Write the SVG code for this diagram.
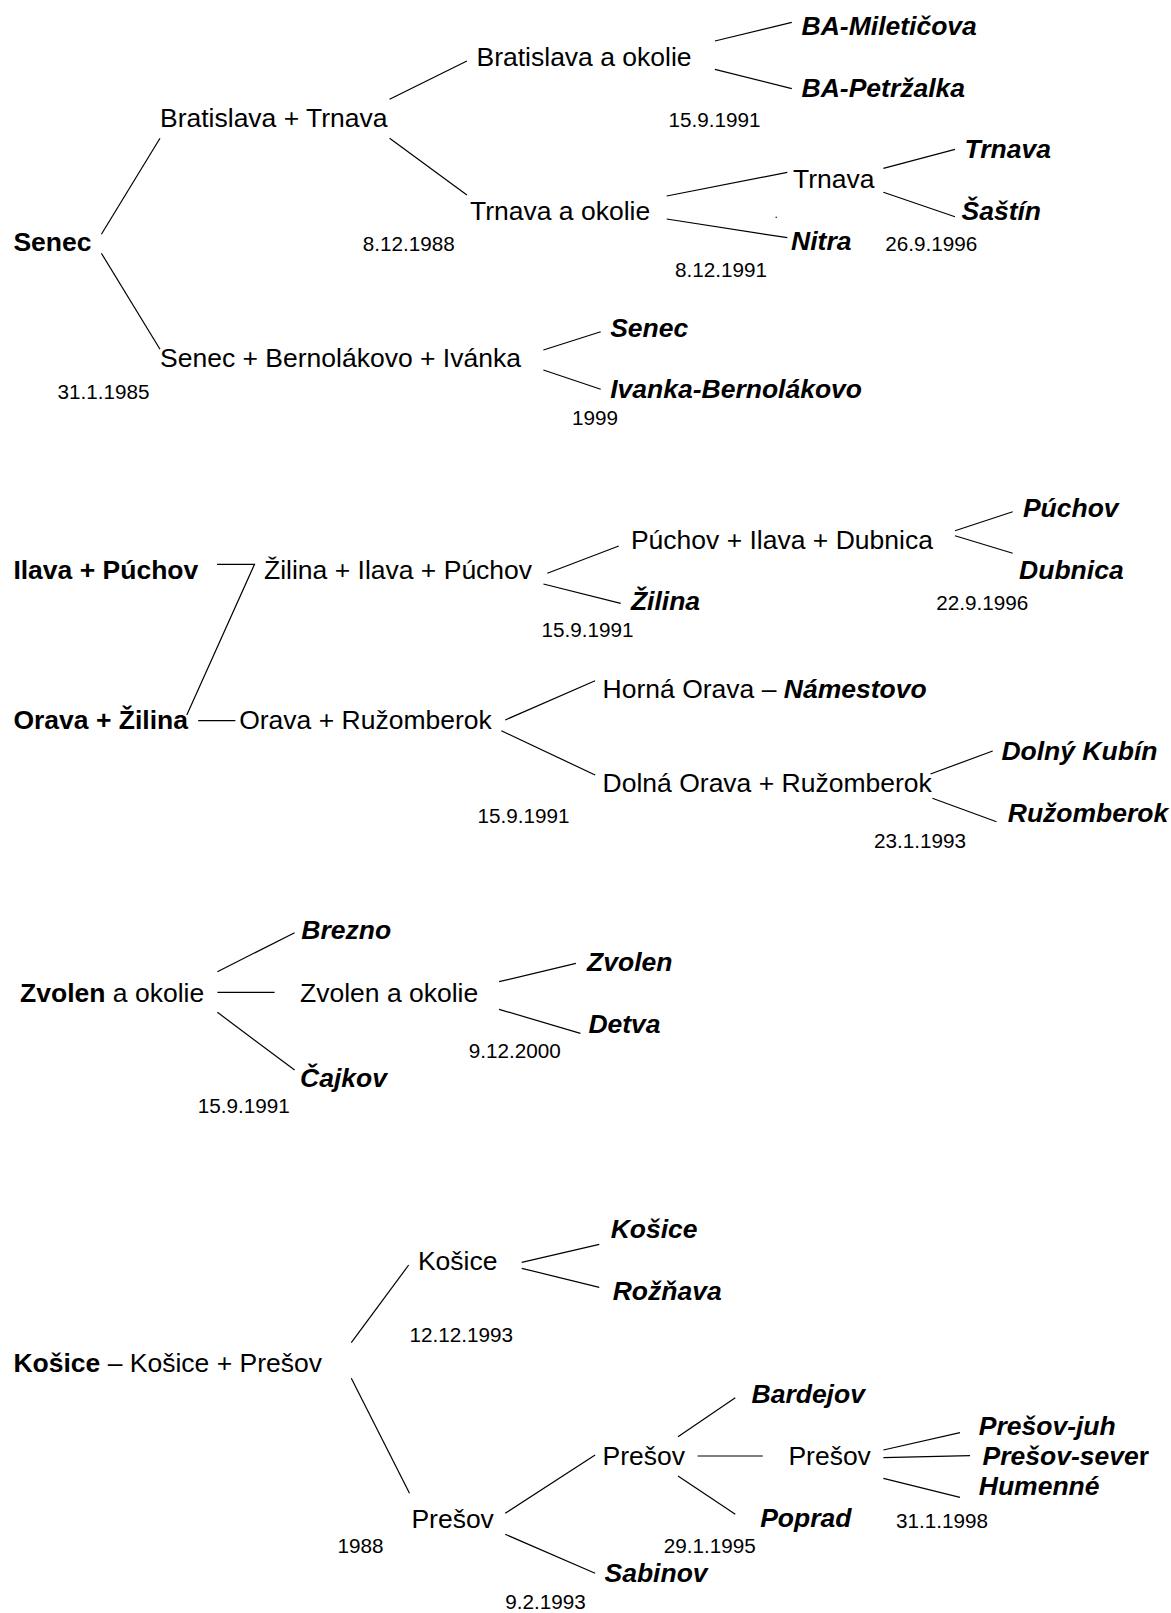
<svg xmlns="http://www.w3.org/2000/svg" width="1171" height="1613" viewBox="0 0 1171 1613">
<style>
text{font-family:"Liberation Sans",Arial,Helvetica,sans-serif;fill:#000}
.l{font-size:26.5px}
.b{font-size:26.5px;font-weight:bold}
.bi{font-size:26.5px;font-weight:bold;font-style:italic}
.d{font-size:20.7px}
.sb{font-weight:bold}
.si{font-weight:bold;font-style:italic}
.up{font-style:normal}
#connectors line,#connectors polyline{stroke:#000;stroke-width:1.2;fill:none}
</style>
<rect width="1171" height="1613" fill="#fff"/>
<g id="connectors">
<!-- Senec tree -->
<line x1="101.4" y1="234.3" x2="160" y2="138.3"/>
<line x1="101.4" y1="253.3" x2="160" y2="349.3"/>
<line x1="389.6" y1="99.3" x2="466.9" y2="61"/>
<line x1="389.6" y1="138.3" x2="466.9" y2="195"/>
<line x1="714.9" y1="41" x2="791.8" y2="22.3"/>
<line x1="714.9" y1="69.3" x2="791.8" y2="88.7"/>
<line x1="666.7" y1="196" x2="787.3" y2="172.3"/>
<line x1="666.7" y1="219" x2="787.3" y2="237.7"/>
<line x1="883.4" y1="168.3" x2="955" y2="149.3"/>
<line x1="883.4" y1="192.3" x2="955" y2="216.7"/>
<line x1="543.4" y1="350" x2="600.7" y2="331.7"/>
<line x1="543.4" y1="370" x2="600.7" y2="389.3"/>
<!-- Ilava/Orava tree -->
<polyline points="217,564.3 254.5,564.3 186.8,715"/>
<line x1="198.2" y1="720.7" x2="235.4" y2="720.7"/>
<line x1="547.3" y1="573.3" x2="618.8" y2="546"/>
<line x1="543.4" y1="584" x2="620.7" y2="603.3"/>
<line x1="955" y1="530.7" x2="1012.7" y2="511.7"/>
<line x1="955" y1="535.7" x2="1012.7" y2="553.3"/>
<line x1="505.2" y1="720" x2="595.1" y2="680.7"/>
<line x1="501.3" y1="730.7" x2="595.1" y2="775"/>
<line x1="930.5" y1="774" x2="992.7" y2="751"/>
<line x1="932.4" y1="798.3" x2="996.5" y2="821.7"/>
<!-- Zvolen tree -->
<line x1="217.4" y1="971.7" x2="294.6" y2="932.7"/>
<line x1="217.4" y1="992.3" x2="274.6" y2="992.3"/>
<line x1="217.4" y1="1012.3" x2="294.6" y2="1070"/>
<line x1="499.1" y1="981.7" x2="575.9" y2="963.3"/>
<line x1="499.1" y1="1009.3" x2="580.4" y2="1033.3"/>
<!-- Kosice tree -->
<line x1="351.3" y1="1342.7" x2="408.7" y2="1265"/>
<line x1="351.3" y1="1378.3" x2="409.5" y2="1493.3"/>
<line x1="521.7" y1="1262.3" x2="599.3" y2="1244.3"/>
<line x1="521.7" y1="1268.3" x2="599.3" y2="1287.3"/>
<line x1="505.2" y1="1513.3" x2="595.1" y2="1455"/>
<line x1="505.2" y1="1534.3" x2="595.1" y2="1573.3"/>
<line x1="678" y1="1436.7" x2="735.3" y2="1397.7"/>
<line x1="697.6" y1="1456" x2="762.8" y2="1456"/>
<line x1="678" y1="1476" x2="735.3" y2="1514.3"/>
<line x1="883.4" y1="1450" x2="960" y2="1432.7"/>
<line x1="883.4" y1="1457.7" x2="970.1" y2="1455.7"/>
<line x1="883.4" y1="1478.3" x2="960" y2="1497.3"/>
</g>
<g id="nodes">
<g id="n-senec-root"><text class="b" x="13.4" y="250.7">Senec</text></g>
<g id="n-ba-tt"><text class="l" x="160" y="126.7">Bratislava + Trnava</text><text class="d" x="362.8" y="250.7">8.12.1988</text></g>
<g id="n-ba-okolie"><text class="l" x="476.5" y="65.7">Bratislava a okolie</text><text class="d" x="668.6" y="126.7">15.9.1991</text></g>
<g id="n-ba-mil"><text class="bi" x="801.6" y="35">BA-Miletičova</text></g>
<g id="n-ba-pet"><text class="bi" x="801.6" y="96.7">BA-Petržalka</text></g>
<g id="n-tt-okolie"><text class="l" x="470" y="220">Trnava a okolie</text><text class="d" x="675" y="276.7">8.12.1991</text></g>
<g id="n-trnava"><text class="l" x="793" y="188.3">Trnava</text><text class="d" x="885.3" y="250.7">26.9.1996</text></g>
<g id="n-dot"><text class="d" x="774.5" y="218" style="font-size:12px">.</text></g>
<g id="n-trnava-c"><text class="bi" x="964.5" y="158.3">Trnava</text></g>
<g id="n-sastin"><text class="bi" x="961.5" y="220">Šaštín</text></g>
<g id="n-nitra"><text class="bi" x="791.1" y="250">Nitra</text></g>
<g id="n-sbi"><text class="l" x="160" y="367.3">Senec + Bernolákovo + Ivánka</text><text class="d" x="57.4" y="399">31.1.1985</text><text class="d" x="572.1" y="425">1999</text></g>
<g id="n-senec-c"><text class="bi" x="610.2" y="337.3">Senec</text></g>
<g id="n-ivanka"><text class="bi" x="610.2" y="398.3">Ivanka-Bernolákovo</text></g>

<g id="n-ilava-puchov"><text class="b" x="13.4" y="579.3">Ilava + Púchov</text></g>
<g id="n-orava-zilina"><text class="b" x="13.4" y="729.3">Orava + Žilina</text></g>
<g id="n-zip"><text class="l" x="264" y="579.3">Žilina + Ilava + Púchov</text><text class="d" x="541.5" y="636.7">15.9.1991</text></g>
<g id="n-pid"><text class="l" x="630.9" y="549">Púchov + Ilava + Dubnica</text><text class="d" x="936.2" y="610">22.9.1996</text></g>
<g id="n-zilina"><text class="bi" x="630.9" y="610">Žilina</text></g>
<g id="n-puchov"><text class="bi" x="1022.9" y="516.7">Púchov</text></g>
<g id="n-dubnica"><text class="bi" x="1019.1" y="579.3">Dubnica</text></g>
<g id="n-or"><text class="l" x="239.2" y="729.3">Orava + Ružomberok</text><text class="d" x="477.6" y="822.7">15.9.1991</text></g>
<g id="n-horna"><text class="l" x="602.6" y="698.3">Horná Orava – <tspan class="si">Námestovo</tspan></text></g>
<g id="n-dolna"><text class="l" x="602.6" y="791.7">Dolná Orava + Ružomberok</text><text class="d" x="874" y="847.7">23.1.1993</text></g>
<g id="n-dkubin"><text class="bi" x="1001.4" y="760">Dolný Kubín</text></g>
<g id="n-ruzomberok"><text class="bi" x="1007.8" y="821.7">Ružomberok</text></g>

<g id="n-zvolen-root"><text class="l" x="20.1" y="1001.7"><tspan class="sb">Zvolen</tspan> a okolie</text><text class="d" x="197.8" y="1113.3">15.9.1991</text></g>
<g id="n-brezno"><text class="bi" x="301.3" y="939.3">Brezno</text></g>
<g id="n-zvolen-ok"><text class="l" x="300" y="1001.7">Zvolen a okolie</text><text class="d" x="468.8" y="1058.3">9.12.2000</text></g>
<g id="n-cajkov"><text class="bi" x="300" y="1086.7">Čajkov</text></g>
<g id="n-zvolen-c"><text class="bi" x="587.1" y="970.7">Zvolen</text></g>
<g id="n-detva"><text class="bi" x="588.4" y="1032.7">Detva</text></g>

<g id="n-kosice-root"><text class="l" x="13.4" y="1372.3"><tspan class="sb">Košice</tspan> – Košice + Prešov</text></g>
<g id="n-kosice"><text class="l" x="417.9" y="1270">Košice</text><text class="d" x="409.5" y="1341.7">12.12.1993</text></g>
<g id="n-kosice-c"><text class="bi" x="610.7" y="1238.3">Košice</text></g>
<g id="n-roznava"><text class="bi" x="612.7" y="1300">Rožňava</text></g>
<g id="n-presov1"><text class="l" x="411.4" y="1528.3">Prešov</text><text class="d" x="337.5" y="1553.3">1988</text><text class="d" x="505.2" y="1609">9.2.1993</text></g>
<g id="n-presov2"><text class="l" x="602.6" y="1465">Prešov</text><text class="d" x="663.7" y="1553.3">29.1.1995</text></g>
<g id="n-bardejov"><text class="bi" x="751.5" y="1402.7">Bardejov</text></g>
<g id="n-poprad"><text class="bi" x="760.2" y="1526.7">Poprad</text></g>
<g id="n-sabinov"><text class="bi" x="604.5" y="1581.7">Sabinov</text></g>
<g id="n-presov3"><text class="l" x="788.4" y="1465">Prešov</text><text class="d" x="895.9" y="1528.3">31.1.1998</text></g>
<g id="n-presov-juh"><text class="bi" x="978.8" y="1435">Prešov-juh</text></g>
<g id="n-presov-sever"><text class="bi" x="982.6" y="1465">Prešov-seve<tspan class="up">r</tspan></text></g>
<g id="n-humenne"><text class="bi" x="978.8" y="1494.5">Humenné</text></g>
</g>
</svg>
